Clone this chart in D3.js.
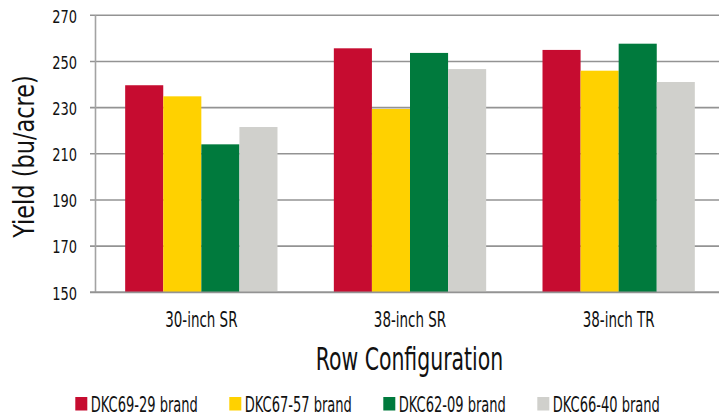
<!DOCTYPE html>
<html>
<head>
<meta charset="utf-8">
<script src="https://cdn.jsdelivr.net/npm/d3@7"></script>
<style>
  html, body { margin: 0; padding: 0; background: #fff; }
  svg { display: block; }
  text { font-family: "DejaVu Sans Condensed", "DejaVu Sans", sans-serif; font-stretch: condensed; fill: #111; }
</style>
</head>
<body>
<svg id="chart" width="719" height="419"></svg>
<script>
const categories = ["30-inch SR", "38-inch SR", "38-inch TR"];
const seriesNames = ["DKC69-29 brand", "DKC67-57 brand", "DKC62-09 brand", "DKC66-40 brand"];
const dkc6929 = [239.7, 255.7, 255.0];
const dkc6757 = [234.9, 229.4, 246.0];
const dkc6209 = [214.1, 253.7, 257.7];
const dkc6640 = [221.6, 246.7, 241.1];
const yTicks = [150, 170, 190, 210, 230, 250, 270];
const colors = ["#C60C30", "#FFD100", "#007A3D", "#D0D0CC"];
const seriesValues = [dkc6929, dkc6757, dkc6209, dkc6640];

const svg = d3.select("#chart");
const W = 719;
const mLeft = 96, mRight = 723, mTop = 15.3, mBottom = 292.3;

const x0 = d3.scaleBand().domain(categories).range([mLeft + 1, mRight]).paddingInner(0.27).paddingOuter(0.135);
const x1 = d3.scaleBand().domain(seriesNames).range([0, x0.bandwidth()]);
const y = d3.scaleLinear().domain([150, 270]).range([mBottom, mTop]);
const color = d3.scaleOrdinal().domain(seriesNames).range(colors);

function squeeze(sel, f) {
  sel.each(function() {
    const len = this.getComputedTextLength();
    d3.select(this).attr("textLength", len * f).attr("lengthAdjust", "spacingAndGlyphs");
  });
}

// gridlines
svg.append("g").selectAll("line").data(yTicks).join("line")
  .attr("x1", mLeft - 6).attr("x2", W)
  .attr("y1", d => y(d)).attr("y2", d => y(d))
  .attr("stroke", "#939393").attr("stroke-width", 1.6);

// bars
const groups = svg.append("g").selectAll("g").data(categories).join("g")
  .attr("transform", d => `translate(${x0(d)},0)`);
groups.selectAll("rect")
  .data((c, i) => seriesNames.map((s, j) => ({ s, v: seriesValues[j][i] })))
  .join("rect")
  .attr("x", d => x1(d.s))
  .attr("width", x1.bandwidth())
  .attr("y", d => y(d.v))
  .attr("height", d => y(150) - y(d.v))
  .attr("fill", d => color(d.s));

// y axis
const yAxis = svg.append("g").attr("transform", `translate(${mLeft},0)`)
  .call(d3.axisLeft(y).tickValues(yTicks).tickSize(6).tickPadding(13).tickFormat(d3.format("d")));
yAxis.select(".domain").remove();
yAxis.selectAll(".tick line").attr("stroke", "none");
yAxis.selectAll(".tick text").attr("font-size", 17).attr("fill", "#111").attr("dy", "0.4em")
  .style("font-family", '"DejaVu Sans Condensed", "DejaVu Sans", sans-serif');
squeeze(yAxis.selectAll(".tick text"), 0.85);

// axis lines
svg.append("line").attr("x1", mLeft - 0.5).attr("x2", mLeft - 0.5).attr("y1", mTop).attr("y2", mBottom)
  .attr("stroke", "#a3a3a3").attr("stroke-width", 1.6);
svg.append("line").attr("x1", mLeft - 6).attr("x2", W).attr("y1", mBottom).attr("y2", mBottom)
  .attr("stroke", "#939393").attr("stroke-width", 1.8);

// x axis labels
const xAxis = svg.append("g").attr("transform", `translate(0,${mBottom})`)
  .call(d3.axisBottom(x0).tickSize(0).tickPadding(0));
xAxis.select(".domain").remove();
xAxis.selectAll(".tick text").attr("font-size", 22).attr("fill", "#111").attr("dy", 0).attr("y", 34.5)
  .style("font-family", '"DejaVu Sans Condensed", "DejaVu Sans", sans-serif');
squeeze(xAxis.selectAll(".tick text"), 0.68);

// x title
const xt = svg.append("text").attr("x", (mLeft + mRight) / 2).attr("y", 370)
  .attr("text-anchor", "middle").attr("font-size", 32).text("Row Configuration");
squeeze(xt, 0.71);

// y title
const yt = svg.append("text").attr("transform", "translate(34,156.5) rotate(-90)")
  .attr("text-anchor", "middle").attr("font-size", 29).text("Yield (bu/acre)");
squeeze(yt, 0.86);

// legend
const legend = svg.append("g").selectAll("g").data(seriesNames).join("g")
  .attr("transform", (d, i) => `translate(${75.3 + i * 154},397)`);
legend.append("rect").attr("width", 12).attr("height", 13.5).attr("fill", d => color(d));
const lt = legend.append("text").attr("x", 15.5).attr("y", 15).attr("font-size", 21).text(d => d);
squeeze(lt, 0.69);
</script>
</body>
</html>
